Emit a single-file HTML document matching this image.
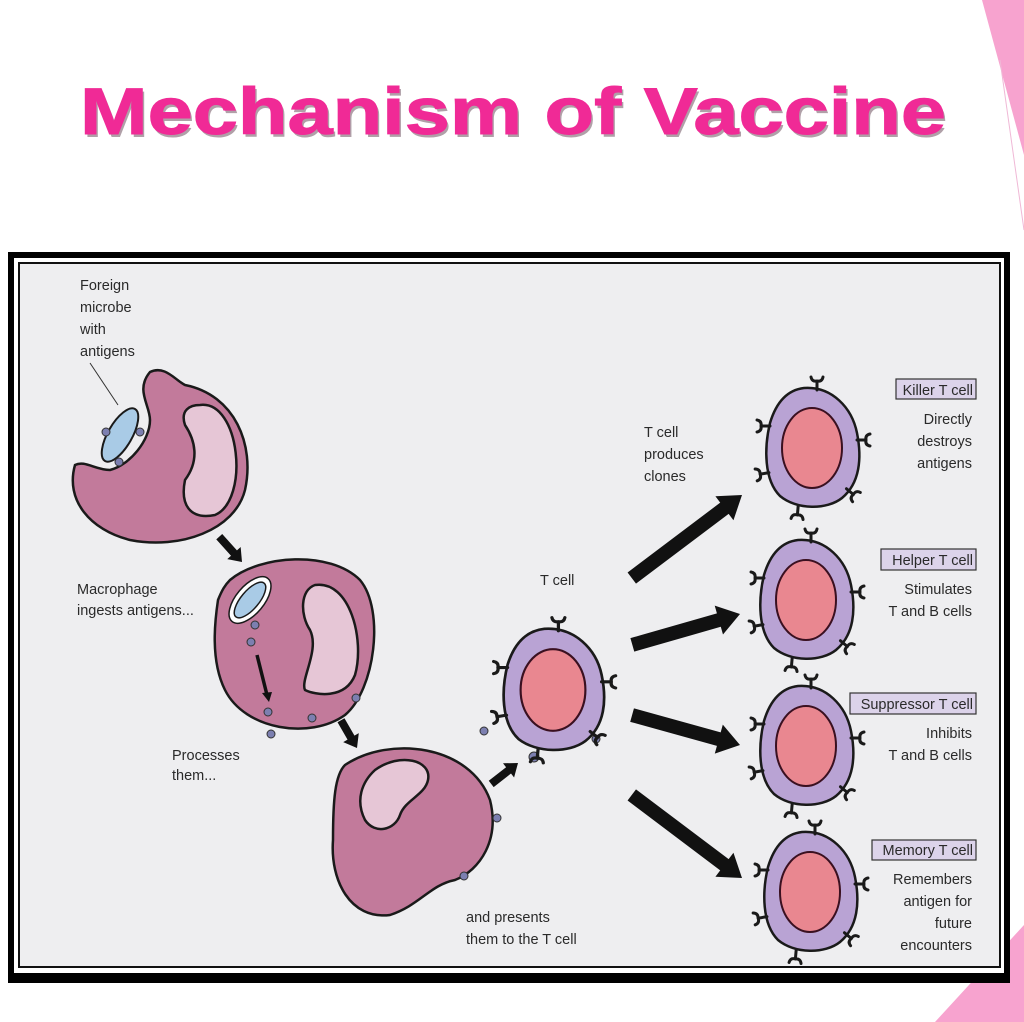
<!DOCTYPE html>
<html><head><meta charset="utf-8"><style>
html,body{margin:0;padding:0;background:#fff;}
svg{display:block;}
text{font-family:"Liberation Sans",Arial,sans-serif;}
</style></head><body>
<svg width="1024" height="1022" viewBox="0 0 1024 1022" xmlns="http://www.w3.org/2000/svg">
<defs>
<g id="rec"><path d="M0,2 L0,-7 M-6,-11 Q-5,-6 0,-7 Q5,-6 6,-11" fill="none" stroke="#1a1a1a" stroke-width="3" stroke-linecap="round"/></g>
<g id="tcell">
<path d="M-8,-60 C20,-62 40,-40 45,-15 C50,10 48,35 30,50 C15,62 -15,62 -32,48 C-48,32 -48,0 -42,-25 C-36,-45 -25,-58 -8,-60 Z" fill="#b9a3d4" stroke="#1a1a1a" stroke-width="2.5"/>
<ellipse cx="0" cy="0" rx="30" ry="40" fill="#e98790" stroke="#3a1020" stroke-width="2"/>
<use href="#rec" transform="translate(5,-60)"/>
<use href="#rec" transform="translate(-44,-22) rotate(-90)"/>
<use href="#rec" transform="translate(47,-8) rotate(90)"/>
<use href="#rec" transform="translate(-45,25) rotate(-100)"/>
<use href="#rec" transform="translate(36,42) rotate(130)"/>
<use href="#rec" transform="translate(-14,60) rotate(185)"/>
</g>
</defs>
<rect width="1024" height="1022" fill="#fff"/>
<polygon points="982,0 1024,0 1024,155" fill="#f7a3cf"/>
<line x1="1000" y1="60" x2="1024" y2="230" stroke="#f0b8d6" stroke-width="1"/>
<polygon points="935,1022 1024,925 1024,1022" fill="#f7a3cf"/>
<text x="80" y="134" font-size="66" font-weight="bold" fill="#b0a0a8" textLength="866" lengthAdjust="spacingAndGlyphs" transform="translate(2,3)">Mechanism of Vaccine</text>
<text x="80" y="134" font-size="66" font-weight="bold" fill="#f02a96" stroke="#f02a96" stroke-width="1" textLength="866" lengthAdjust="spacingAndGlyphs">Mechanism of Vaccine</text>
<!-- frame -->
<rect x="8" y="252" width="1002" height="731" fill="#000"/>
<rect x="14" y="258" width="990" height="715" fill="#fff"/>
<rect x="18" y="262" width="983" height="706" fill="#111"/>
<rect x="20" y="264" width="979" height="702" fill="#eeeef0"/>
<!-- labels left -->
<g font-size="14.5" fill="#2a2a2a">
<text x="80" y="290">Foreign</text><text x="80" y="312">microbe</text><text x="80" y="334">with</text><text x="80" y="356">antigens</text>
<text x="77" y="594">Macrophage</text><text x="77" y="615">ingests antigens...</text>
<text x="172" y="760">Processes</text><text x="172" y="780">them...</text>
<text x="466" y="922">and presents</text><text x="466" y="944">them to the T cell</text>
<text x="540" y="585">T cell</text>
<text x="644" y="437">T cell</text><text x="644" y="459">produces</text><text x="644" y="481">clones</text>
</g>
<line x1="90" y1="363" x2="118" y2="405" stroke="#333" stroke-width="1"/>
<!-- cell 1 -->
<path d="M150,372 C165,365 175,380 185,385 C235,395 255,445 245,490 C235,530 180,550 130,540 C90,530 65,500 75,465 C85,460 95,470 110,470 C130,465 150,440 150,420 C150,405 135,390 150,372 Z" fill="#c27a9b" stroke="#1a1a1a" stroke-width="2.5"/>
<path d="M200,405 C240,400 250,500 215,515 C190,520 180,505 185,480 C200,460 195,440 185,425 C180,410 190,405 200,405 Z" fill="#e6c6d6" stroke="#1a1a1a" stroke-width="2.5"/>
<ellipse cx="120" cy="435" rx="12" ry="30" transform="rotate(30 120 435)" fill="#a9cbe6" stroke="#1a1a1a" stroke-width="2"/>
<g fill="#7c7fb0" stroke="#333" stroke-width="1"><circle cx="106" cy="432" r="4"/><circle cx="140" cy="432" r="4"/><circle cx="119" cy="462" r="4"/></g>
<!-- cell 2 -->
<path d="M230,580 C260,555 330,550 360,580 C385,610 375,690 345,715 C310,740 245,730 225,690 C210,660 215,620 218,600 C222,590 225,585 230,580 Z" fill="#c27a9b" stroke="#1a1a1a" stroke-width="2.5"/>
<path d="M315,585 C350,580 365,640 355,675 C345,700 315,695 305,690 C300,680 320,650 310,630 C300,615 300,590 315,585 Z" fill="#e6c6d6" stroke="#1a1a1a" stroke-width="2.5"/>
<ellipse cx="250" cy="600" rx="14" ry="28" transform="rotate(40 250 600)" fill="#fff" stroke="#1a1a1a" stroke-width="1.5"/>
<ellipse cx="250" cy="600" rx="9" ry="22" transform="rotate(40 250 600)" fill="#a9cbe6" stroke="#1a1a1a" stroke-width="1.5"/>
<path d="M257,655 L267,695" stroke="#111" stroke-width="3.5"/><polygon points="262,693 272,692 269,702" fill="#111"/>
<g fill="#7c7fb0" stroke="#333" stroke-width="1"><circle cx="255" cy="625" r="4"/><circle cx="251" cy="642" r="4"/><circle cx="268" cy="712" r="4"/><circle cx="312" cy="718" r="4"/><circle cx="356" cy="698" r="4"/><circle cx="271" cy="734" r="4"/></g>
<!-- cell 3 -->
<path d="M345,765 C390,735 470,745 490,800 C500,840 480,870 455,880 C430,885 420,905 390,915 C350,920 330,880 333,840 C333,800 335,775 345,765 Z" fill="#c27a9b" stroke="#1a1a1a" stroke-width="2.5"/>
<path d="M375,770 C400,752 432,760 428,780 C425,795 405,800 400,815 C395,830 375,835 365,820 C355,800 362,782 375,770 Z" fill="#e6c6d6" stroke="#1a1a1a" stroke-width="2.5"/>
<g fill="#7c7fb0" stroke="#333" stroke-width="1"><circle cx="497" cy="818" r="4"/><circle cx="464" cy="876" r="4"/><circle cx="484" cy="731" r="4"/><circle cx="534" cy="757" r="5"/><circle cx="596" cy="739" r="4"/></g>
<!-- small arrows -->
<g fill="#111">
<g transform="translate(242,562) rotate(48)"><polygon points="0,0 -12,-9 -12,-4 -34,-4 -34,4 -12,4 -12,9"/></g>
<g transform="translate(357,748) rotate(60)"><polygon points="0,0 -12,-9 -12,-4 -32,-4 -32,4 -12,4 -12,9"/></g>
<g transform="translate(518,763) rotate(-38)"><polygon points="0,0 -12,-9 -12,-4 -34,-4 -34,4 -12,4 -12,9"/></g>
<!-- big arrows -->
<g transform="translate(742,495) rotate(-37)"><polygon points="0,0 -22,-15 -22,-7 -138,-7 -138,7 -22,7 -22,15"/></g>
<g transform="translate(740,614) rotate(-16)"><polygon points="0,0 -22,-15 -22,-7 -112,-7 -112,7 -22,7 -22,15"/></g>
<g transform="translate(740,745) rotate(15.5)"><polygon points="0,0 -22,-15 -22,-7 -112,-7 -112,7 -22,7 -22,15"/></g>
<g transform="translate(742,878) rotate(37)"><polygon points="0,0 -22,-15 -22,-7 -138,-7 -138,7 -22,7 -22,15"/></g>
</g>
<!-- T cells -->
<use href="#tcell" transform="translate(553,690) scale(1.08,1.02)"/>
<use href="#tcell" transform="translate(812,448)"/>
<use href="#tcell" transform="translate(806,600)"/>
<use href="#tcell" transform="translate(806,746)"/>
<use href="#tcell" transform="translate(810,892)"/>
<!-- right labels -->
<g fill="#dcd3ea" stroke="#333" stroke-width="1.2">
<rect x="896" y="379" width="80" height="20"/>
<rect x="881" y="549" width="95" height="21"/>
<rect x="850" y="693" width="126" height="21"/>
<rect x="872" y="840" width="104" height="20"/>
</g>
<g font-size="14.5" fill="#2a2a2a" text-anchor="end">
<text x="973" y="395">Killer T cell</text>
<text x="972" y="424">Directly</text><text x="972" y="446">destroys</text><text x="972" y="468">antigens</text>
<text x="973" y="565">Helper T cell</text>
<text x="972" y="594">Stimulates</text><text x="972" y="616">T and B cells</text>
<text x="973" y="709">Suppressor T cell</text>
<text x="972" y="738">Inhibits</text><text x="972" y="760">T and B cells</text>
<text x="973" y="855">Memory T cell</text>
<text x="972" y="884">Remembers</text><text x="972" y="906">antigen for</text><text x="972" y="928">future</text><text x="972" y="950">encounters</text>
</g>
</svg>
</body></html>
